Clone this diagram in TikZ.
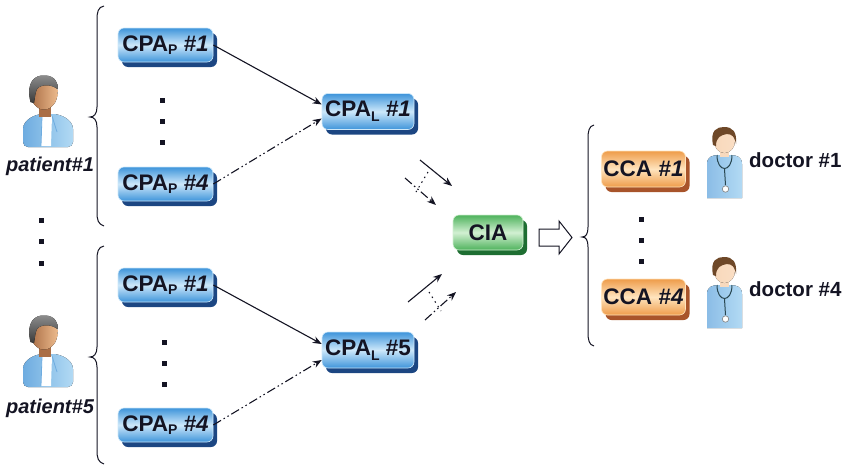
\documentclass[tikz,border=0pt]{standalone}
\usepackage{fontspec}
\setmainfont{Liberation Sans}
\usetikzlibrary{arrows.meta,shadows}

\definecolor{txtdark}{RGB}{20,20,35}
\definecolor{blueedge}{RGB}{62,148,218}
\definecolor{bluemid}{RGB}{205,232,250}
\definecolor{blueshadow}{RGB}{28,70,130}
\definecolor{greenedge}{RGB}{78,178,92}
\definecolor{greenmid}{RGB}{210,240,210}
\definecolor{greenshadow}{RGB}{30,110,50}
\definecolor{orangeedge}{RGB}{238,156,74}
\definecolor{orangemid}{RGB}{255,228,190}
\definecolor{orangeshadow}{RGB}{168,84,42}
\definecolor{skinA}{RGB}{236,186,140}
\definecolor{skinB}{RGB}{170,110,70}
\definecolor{skinlight}{RGB}{250,222,196}
\definecolor{hairgrey}{RGB}{95,95,95}
\definecolor{hairbrown}{RGB}{110,72,40}
\definecolor{shirtA}{RGB}{178,218,244}
\definecolor{shirtB}{RGB}{110,172,224}
\definecolor{steth}{RGB}{40,70,80}

\newcommand\lowidx[2]{\raisebox{#1}{\fontsize{14}{14}\selectfont #2}}

\tikzset{
  x=1pt, y=-1pt,
  agentbase/.style={rounded corners=6pt, inner sep=0pt, text=txtdark,
    font=\fontsize{22.5}{25}\selectfont\bfseries, line width=0.6pt},
  bluebox/.style={agentbase, minimum width=95pt, minimum height=34pt,
    draw=bluemid, top color=blueedge, bottom color=blueedge, middle color=bluemid,
    drop shadow={shadow xshift=4pt, shadow yshift=-5pt, fill=blueshadow, opacity=1}},
  greenbox/.style={agentbase, minimum width=70pt, minimum height=35pt,
    draw=greenmid, top color=greenedge, bottom color=greenedge, middle color=greenmid,
    drop shadow={shadow xshift=4pt, shadow yshift=-5pt, fill=greenshadow, opacity=1}},
  orangebox/.style={agentbase, minimum width=84pt, minimum height=36pt,
    draw=orangemid, top color=orangeedge, bottom color=orangeedge, middle color=orangemid,
    drop shadow={shadow xshift=4pt, shadow yshift=-5pt, fill=orangeshadow, opacity=1}},
  personlabel/.style={text=txtdark, inner sep=0pt, font=\fontsize{20.5}{23}\selectfont\bfseries},
  patientlabel/.style={personlabel, font=\fontsize{20}{23}\selectfont\bfseries\itshape},
  solidarr/.style={-{Stealth[length=9pt,width=7pt]}, line width=1.1pt, draw=txtdark},
  dasharr/.style={solidarr, dash pattern=on 9pt off 3pt on 1.5pt off 3pt on 1.5pt off 3pt},
  dotline/.style={line width=1.1pt, draw=txtdark, dash pattern=on 1.5pt off 4pt},
  brace/.style={line width=1pt, draw=txtdark},
  dotsq/.style={fill=txtdark},
  % patient figure, origin at the centre of the head
  patient/.pic={
    \fill[left color=shirtB, right color=shirtA, rounded corners=5pt]
      (-20,55) -- (-20,42) .. controls (-20,28) and (-8,22) .. (5,22)
      .. controls (18,22) and (30,28) .. (30,42) -- (30,55) -- cycle;
    \fill[white] (-1,24) -- (9,24) -- (8,54) -- (-2,54) -- cycle;
    \draw[shirtB, line width=0.8pt] (-1,24) -- (-2,54) (9,24) -- (14,40);
    \fill[skinB] (-4,10) rectangle (8,25);
    \fill[left color=skinB, right color=skinA] (1,1) ellipse [x radius=13.5, y radius=16.5];
    \fill[top color=hairgrey!70!white, bottom color=hairgrey!60!black]
      (-12.5,10) .. controls (-17.5,-10) and (-8,-17.5) .. (2,-16.5)
      .. controls (12,-16.5) and (16,-8) .. (14.5,-3)
      .. controls (8,-8) and (-2,-8) .. (-6,-3)
      .. controls (-8,1) and (-8,6) .. (-9,11) -- cycle;
  },
  % doctor figure, origin at the centre of the head
  doctor/.pic={
    \fill[left color=shirtB!80!white, right color=shirtA]
      (-17,58) -- (-17,24) .. controls (-17,17) and (-12,15) .. (-5,15)
      -- (6,15) .. controls (13,15) and (18,17) .. (18,24) -- (18,58) -- cycle;
    \fill[skinlight!90!skinA] (-4,8) rectangle (5,17);
    \draw[steth, line width=1pt] (-7,15) .. controls (-7,33) and (8,33) .. (8,15);
    \draw[steth, line width=1pt] (0.5,29) -- (1.5,45);
    \filldraw[fill=white, draw=gray, line width=0.6pt] (1.5,49) circle [radius=3.2];
    \fill[left color=skinlight!85!skinA, right color=skinlight] (0.5,1) ellipse [x radius=10.5, y radius=12];
    \fill[hairbrown]
      (-11,5) .. controls (-14,-10) and (-7,-13) .. (0,-13)
      .. controls (9,-13) and (13,-8) .. (12,4)
      .. controls (11,-3) and (8,-6) .. (3,-6)
      .. controls (-3,-5) and (-8,-3) .. (-8,6) -- cycle;
  }
}

\begin{document}
\begin{tikzpicture}
\useasboundingbox (0,0) rectangle (844,466);

% patients
\pic at (43,92) {patient};
\node[patientlabel] (pat1) at (50,166) {patient\#1};
\pic at (43,332) {patient};
\node[patientlabel] (pat5) at (50,408) {patient\#5};
\foreach \yy in {220,241,263} \fill[dotsq] (38.5,\yy-2.5) rectangle +(5,5);

% braces grouping the agents of each patient
\draw[brace] (104,6) .. controls (98,7) and (97,12) .. (97,20) -- (97,107)
  .. controls (97,114) and (94,117) .. (90,117)
  .. controls (94,117) and (97,120) .. (97,127) -- (97,212)
  .. controls (97,220) and (98,224) .. (104,226);
\draw[brace] (104,246) .. controls (98,247) and (97,252) .. (97,260) -- (97,347)
  .. controls (97,354) and (94,357) .. (90,357)
  .. controls (94,357) and (97,360) .. (97,367) -- (97,450)
  .. controls (97,458) and (98,462) .. (104,464);

% personal agents
\node[bluebox] (pa1) at (165.5,45) {CPA\lowidx{-3pt}{P} \textit{\#1}};
\node[bluebox] (pa4) at (165.5,184) {CPA\lowidx{-3pt}{P} \textit{\#4}};
\node[bluebox] (pb1) at (165.5,285) {CPA\lowidx{-3pt}{P} \textit{\#1}};
\node[bluebox] (pb4) at (165.5,425) {CPA\lowidx{-3pt}{P} \textit{\#4}};
\foreach \yy in {100,121,142} \fill[dotsq] (160,\yy-2.5) rectangle +(5,5);
\foreach \yy in {342,363,384} \fill[dotsq] (162,\yy-2.5) rectangle +(5,5);

% local agents
\node[bluebox, minimum width=92pt, minimum height=36pt] (la1) at (368,111.5) {CPA\lowidx{-5pt}{L} \textit{\#1}};
\node[bluebox, minimum width=92pt, minimum height=36pt] (la5) at (368,350) {CPA\lowidx{-5pt}{L} \#5};

\draw[solidarr] (pa1.east) -- ([yshift=7pt]la1.west);
\draw[dasharr] (pa4.east) -- ([yshift=-7pt]la1.west);
\draw[solidarr] (pb1.east) -- ([yshift=6pt]la5.west);
\draw[dasharr] (pb4.east) -- ([yshift=-10pt]la5.west);

% central agent and the arrows towards it
\node[greenbox] (cia) at (488,232.5) {CIA};

\coordinate (ta1) at (420,160); \coordinate (tb1) at (452,186);
\coordinate (ta2) at (405,178); \coordinate (tb2) at (436,205);
\coordinate (ta3) at (428,172); \coordinate (tb3) at (416,192);
\draw[solidarr] (ta1) -- (tb1);
\draw[dasharr] (ta2) -- (tb2);
\draw[dotline] (ta3) -- (tb3);

\coordinate (ba1) at (408,302); \coordinate (bb1) at (442,274);
\coordinate (ba2) at (425,320); \coordinate (bb2) at (456,292);
\coordinate (ba3) at (429,292); \coordinate (bb3) at (441,311);
\draw[solidarr] (ba1) -- (bb1);
\draw[dasharr] (ba2) -- (bb2);
\draw[dotline] (ba3) -- (bb3);

% hollow block arrow
\draw[line width=1pt, draw=txtdark, fill=white]
  (539,229) -- (559,229) -- (559,221) -- (572,237.5) -- (559,254) -- (559,246) -- (539,246) -- cycle;

% brace grouping the care agents
\draw[brace] (594,125) .. controls (589,126) and (588,131) .. (588,139) -- (588,227)
  .. controls (588,234) and (586,237) .. (582,237)
  .. controls (586,237) and (588,240) .. (588,247) -- (588,332)
  .. controls (588,340) and (589,345) .. (594,346);

% care agents and doctors
\node[orangebox] (cc1) at (643.5,169) {CCA \textit{\#1}};
\node[orangebox] (cc4) at (643.5,297) {CCA \textit{\#4}};
\foreach \yy in {219,240,261} \fill[dotsq] (638.5,\yy-2.5) rectangle +(5,5);

\pic at (724,140) {doctor};
\pic at (724,270) {doctor};
\node[personlabel, anchor=west] (doc1) at (749,160) {doctor \#1};
\node[personlabel, anchor=west] (doc4) at (749,289) {doctor \#4};
\end{tikzpicture}
\end{document}
